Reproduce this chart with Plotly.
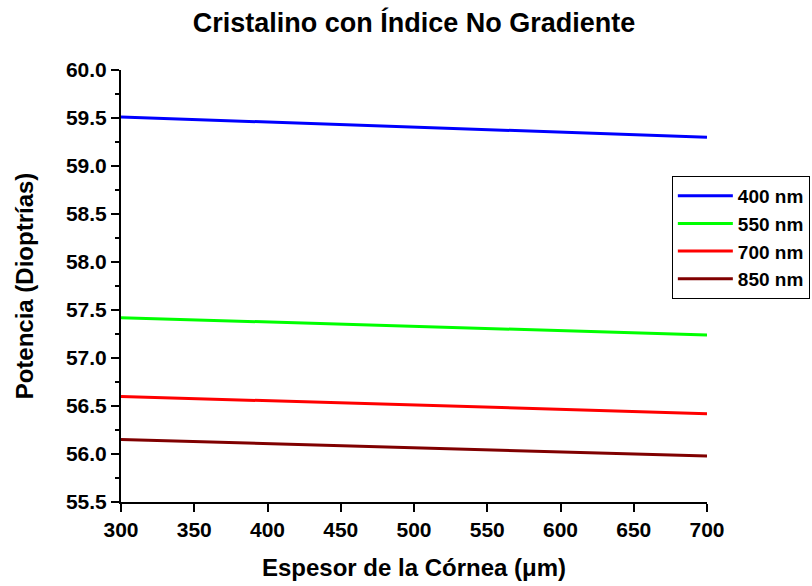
import plotly.graph_objects as go

thickness = [300, 700]
series_names = ["400 nm", "550 nm", "700 nm", "850 nm"]
p400 = [59.51, 59.30]
p550 = [57.42, 57.24]
p700 = [56.60, 56.42]
p850 = [56.15, 55.98]
colors = ["#0000ff", "#00ff00", "#ff0000", "#800000"]

FONT = "Liberation Sans, Arial, sans-serif"

fig = go.Figure()
for name, vals, c in zip(series_names, [p400, p550, p700, p850], colors):
    fig.add_trace(go.Scatter(x=thickness, y=vals, mode="lines", name=name,
                             line=dict(color=c, width=3)))

fig.update_layout(
    width=812, height=586,
    margin=dict(l=121, r=105, t=70, b=84, autoexpand=False),
    plot_bgcolor="white", paper_bgcolor="white",
    font=dict(family=FONT, color="black"),
    title=dict(text="<b>Cristalino con Índice No Gradiente</b>", x=0.5, xref="paper",
               y=0.962, yref="container", xanchor="center", yanchor="middle",
               font=dict(size=27, family=FONT, color="black")),
    legend=dict(x=0.94, y=0.755, xanchor="left", yanchor="top",
                bordercolor="black", borderwidth=1, bgcolor="white",
                font=dict(size=19, family=FONT, color="black", weight="bold"),
                tracegroupgap=0, itemwidth=55),
    showlegend=True,
)

fig.update_xaxes(
    range=[300, 700], dtick=50, tick0=300,
    showline=True, linecolor="black", linewidth=2,
    ticks="outside", ticklen=8, tickwidth=2, tickcolor="black",
    showgrid=False, zeroline=False,
    tickfont=dict(size=21, family=FONT, color="black", weight="bold"),
    title=dict(text="<b>Espesor de la Córnea (μm)</b>", standoff=19,
               font=dict(size=24, family=FONT, color="black")),
)
fig.update_yaxes(
    range=[55.5, 60.0], dtick=0.5, tick0=55.5, tickformat=".1f",
    showline=True, linecolor="black", linewidth=2,
    ticks="outside", ticklen=8, tickwidth=2, tickcolor="black",
    minor=dict(ticks="outside", ticklen=4, tickwidth=2, dtick=0.25, tickcolor="black", showgrid=False),
    showgrid=False, zeroline=False,
    tickfont=dict(size=21, family=FONT, color="black", weight="bold"),
    title=dict(text="<b>Potencia (Dioptrías)</b>", standoff=26,
               font=dict(size=24, family=FONT, color="black")),
)

fig.write_html("out.html")
